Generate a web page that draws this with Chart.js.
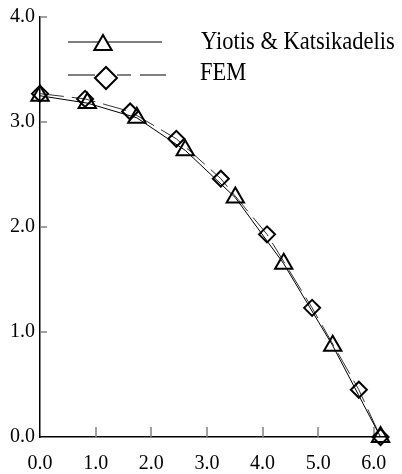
<!DOCTYPE html>
<html lang="en">
<head>
<meta charset="UTF-8">
<title>Plate deflection comparison</title>
<script src="https://cdn.jsdelivr.net/npm/chart.js"></script>
<style>
  html, body { margin: 0; padding: 0; background: #fff; }
  #wrap { width: 402px; height: 474px; }
</style>
</head>
<body>
<div id="wrap"><canvas id="plateChart"></canvas></div>
<script>
  // data
  const seriesNames = ['Yiotis & Katsikadelis', 'FEM'];
  const yiotisX = [0.00, 0.85, 1.74, 2.61, 3.51, 4.38, 5.26, 6.12];
  const yiotisY = [3.25, 3.18, 3.04, 2.73, 2.28, 1.65, 0.87, 0.00];
  const femX = [0.00, 0.81, 1.62, 2.45, 3.25, 4.08, 4.89, 5.73, 6.12];
  const femY = [3.27, 3.22, 3.10, 2.84, 2.46, 1.93, 1.23, 0.45, 0.00];
  const xTicks = [0, 1, 2, 3, 4, 5, 6];
  const yTicks = [0, 1, 2, 3, 4];

  const serif = '"Liberation Serif", "Times New Roman", serif';

  // inward tick marks, like the original figure
  const innerTicks = {
    id: 'innerTicks',
    beforeDatasetsDraw(chart) {
      const { ctx, chartArea, scales } = chart;
      ctx.save();
      ctx.strokeStyle = '#808080';
      ctx.lineWidth = 1.5;
      xTicks.slice(1).forEach(v => {
        const px = Math.round(scales.x.getPixelForValue(v));
        ctx.beginPath();
        ctx.moveTo(px, chartArea.bottom);
        ctx.lineTo(px, chartArea.bottom - 10);
        ctx.stroke();
      });
      yTicks.slice(1).forEach(v => {
        const py = Math.round(scales.y.getPixelForValue(v));
        ctx.beginPath();
        ctx.moveTo(chartArea.left, py);
        ctx.lineTo(chartArea.left + 7, py);
        ctx.stroke();
      });
      ctx.restore();
    }
  };

  // legend drawn by hand inside the plot
  const boxLegend = {
    id: 'boxLegend',
    afterDraw(chart) {
      const ctx = chart.ctx;
      ctx.save();
      ctx.strokeStyle = '#000';
      ctx.fillStyle = '#fff';

      ctx.lineWidth = 1;
      ctx.beginPath();
      ctx.moveTo(68, 42); ctx.lineTo(162, 42);
      ctx.stroke();
      ctx.lineWidth = 2;
      Chart.helpers.drawPoint(ctx, { pointStyle: 'triangle', radius: 10, rotation: 0, borderWidth: 2 }, 103, 45);

      ctx.lineWidth = 1;
      ctx.beginPath();
      ctx.moveTo(68, 75); ctx.lineTo(95, 75);
      ctx.moveTo(117, 75); ctx.lineTo(131, 75);
      ctx.moveTo(140, 75); ctx.lineTo(166, 75);
      ctx.stroke();
      ctx.lineWidth = 2;
      ctx.fillStyle = '#fff';
      Chart.helpers.drawPoint(ctx, { pointStyle: 'rectRot', radius: 11, rotation: 0, borderWidth: 2 }, 106, 78);

      ctx.fillStyle = '#000';
      ctx.font = '22.5px ' + serif;
      ctx.textBaseline = 'middle';
      [[seriesNames[0], 201, 42], [seriesNames[1], 200, 73]].forEach(([t, x, y]) => {
        ctx.save();
        ctx.translate(x, y);
        ctx.scale(1, 1.15);
        ctx.fillText(t, 0, 0);
        ctx.restore();
      });
      ctx.restore();
    }
  };

  const ctx = document.getElementById('plateChart').getContext('2d');
  const plateChart = new Chart(ctx, {
    type: 'scatter',
    data: {
      datasets: [
        {
          label: seriesNames[0],
          data: yiotisX.map((x, i) => ({ x: x, y: yiotisY[i] })),
          showLine: true,
          borderColor: '#000',
          borderWidth: 1,
          pointStyle: 'triangle',
          pointRadius: 10,
          pointBorderWidth: 2,
          pointBackgroundColor: 'rgba(255,255,255,0)',
          pointBorderColor: '#000',
          clip: false
        },
        {
          label: seriesNames[1],
          data: femX.map((x, i) => ({ x: x, y: femY[i] })),
          showLine: true,
          borderColor: '#333',
          borderWidth: 1,
          borderDash: [24, 8],
          pointStyle: 'rectRot',
          pointRadius: 8,
          pointBorderWidth: 2,
          pointBackgroundColor: 'rgba(255,255,255,0)',
          pointBorderColor: '#000',
          clip: false
        }
      ]
    },
    options: {
      responsive: true,
      maintainAspectRatio: false,
      animation: false,
      layout: { padding: { top: 13, right: 17, left: 0, bottom: 0 } },
      scales: {
        x: {
          type: 'linear',
          min: 0,
          max: 6.2,
          afterBuildTicks: s => { s.ticks = xTicks.map(v => ({ value: v })); },
          afterFit: s => { s.height = 37; },
          grid: { display: false, drawTicks: false },
          border: { display: true, color: '#000', width: 1.5 },
          ticks: {
            padding: 15,
            color: '#000',
            font: { family: serif, size: 20 },
            maxRotation: 0,
            callback: v => v.toFixed(1)
          }
        },
        y: {
          type: 'linear',
          min: 0,
          max: 4,
          afterBuildTicks: s => { s.ticks = yTicks.map(v => ({ value: v })); },
          afterFit: s => { s.width = 40; },
          grid: { display: false, drawTicks: false },
          border: { display: true, color: '#000', width: 1.5 },
          ticks: {
            padding: 5,
            color: '#000',
            font: { family: serif, size: 20 },
            callback: v => v.toFixed(1)
          }
        }
      },
      plugins: {
        legend: { display: false },
        tooltip: { enabled: false }
      }
    },
    plugins: [innerTicks, boxLegend]
  });
</script>
</body>
</html>
